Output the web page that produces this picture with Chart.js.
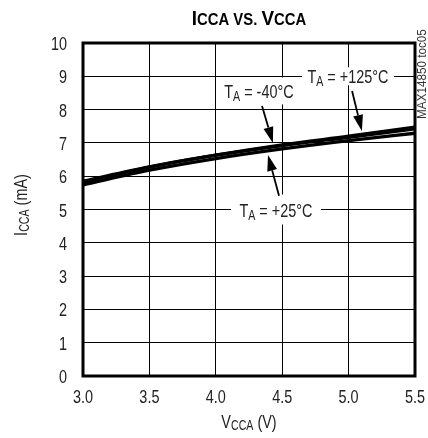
<!DOCTYPE html>
<html>
<head>
<meta charset="utf-8">
<script src="https://cdn.jsdelivr.net/npm/chart.js@4"></script>
<style>
  html, body { margin: 0; padding: 0; background: #fff; }
  #wrap { width: 428px; height: 438px; }
</style>
</head>
<body>
<div id="wrap"><canvas id="iccChart"></canvas></div>
<script>
const FONT = '"Liberation Sans", Arial, sans-serif';
const NARROW = 0.76; // squeeze to look like a condensed face

// supply voltage (V)
const vcca = [3.0, 3.5, 4.0, 4.5, 5.0, 5.5];
// supply current (mA) per temperature
const iccMinus40 = [5.85, 6.28, 6.63, 6.92, 7.17, 7.42];
const icc25 = [5.74, 6.18, 6.53, 6.82, 7.07, 7.29];
const icc125 = [5.82, 6.27, 6.63, 6.94, 7.20, 7.47];
const xTicks = ["3.0", "3.5", "4.0", "4.5", "5.0", "5.5"];
const yTicks = ["0", "1", "2", "3", "4", "5", "6", "7", "8", "9", "10"];

function pts(ys) {
  return vcca.map((v, i) => ({ x: v, y: ys[i] }));
}

function line(ys) {
  return {
    data: pts(ys),
    borderColor: "#000",
    borderWidth: 3.3,
    pointRadius: 0,
    tension: 0.4,
    cubicInterpolationMode: "monotone",
  };
}

// condensed text made of parts (small caps / subscripts)
function drawParts(ctx, parts, x, y, align, squeeze) {
  const k = squeeze || NARROW;
  let w = 0;
  parts.forEach((p) => {
    ctx.font = (p.bold ? "bold " : "") + p.size + "px " + FONT;
    w += ctx.measureText(p.t).width;
  });
  w *= k;
  let cx = x;
  if (align === "center") cx = x - w / 2;
  if (align === "right") cx = x - w;
  ctx.save();
  ctx.translate(cx, y);
  ctx.scale(k, 1);
  ctx.textAlign = "left";
  let off = 0;
  parts.forEach((p) => {
    ctx.font = (p.bold ? "bold " : "") + p.size + "px " + FONT;
    ctx.fillText(p.t, off, p.dy || 0);
    off += ctx.measureText(p.t).width;
  });
  ctx.restore();
  return w;
}

function taLabel(temp) {
  return [
    { t: "T", size: 19 },
    { t: "A", size: 14, dy: 3 },
    { t: " = " + temp, size: 19 },
  ];
}

// annotations: label centre and arrow in data units
const notes = [
  { parts: taLabel("+125°C"), x: 4.995, y: 9.0, box: [92, 18] },
  { parts: taLabel("-40°C"), x: 4.325, y: 8.56, box: [82, 27] },
  { parts: taLabel("+25°C"), x: 4.453, y: 5.0, box: [90, 30] },
];
const arrows = [
  [5.026, 8.56, 5.10, 7.36],
  [4.348, 8.11, 4.43, 7.0],
  [4.476, 5.41, 4.393, 6.64],
];

const decor = {
  id: "decor",
  afterDatasetsDraw(chart) {
    const ctx = chart.ctx;
    const xs = chart.scales.x, ys = chart.scales.y;
    const a = chart.chartArea;
    ctx.save();
    ctx.textBaseline = "alphabetic";

    notes.forEach((n) => {
      const px = xs.getPixelForValue(n.x), py = ys.getPixelForValue(n.y);
      ctx.fillStyle = "#fff";
      ctx.fillRect(px - n.box[0] / 2, py - n.box[1] / 2, n.box[0], n.box[1]);
      ctx.fillStyle = "#222";
      drawParts(ctx, n.parts, px, py + 7, "center");
    });

    ctx.fillStyle = "#000";
    ctx.strokeStyle = "#000";
    ctx.lineWidth = 1.8;
    arrows.forEach((ar) => {
      const x1 = xs.getPixelForValue(ar[0]), y1 = ys.getPixelForValue(ar[1]);
      const x2 = xs.getPixelForValue(ar[2]), y2 = ys.getPixelForValue(ar[3]);
      const ang = Math.atan2(y2 - y1, x2 - x1);
      const len = 16, half = 5;
      const bx = x2 - len * Math.cos(ang), by = y2 - len * Math.sin(ang);
      ctx.beginPath();
      ctx.moveTo(x1, y1);
      ctx.lineTo(bx, by);
      ctx.stroke();
      ctx.beginPath();
      ctx.moveTo(x2, y2);
      ctx.lineTo(bx + half * Math.sin(ang), by - half * Math.cos(ang));
      ctx.lineTo(bx - half * Math.sin(ang), by + half * Math.cos(ang));
      ctx.closePath();
      ctx.fill();
    });

    // frame
    ctx.lineWidth = 3;
    ctx.strokeRect(a.left, a.top, a.right - a.left, a.bottom - a.top);

    // tick labels
    ctx.fillStyle = "#222";
    xs.ticks.forEach((t, i) => {
      drawParts(ctx, [{ t: xTicks[i], size: 19 }], xs.getPixelForValue(t.value), a.bottom + 27, "center", 0.76);
    });
    ys.ticks.forEach((t, i) => {
      drawParts(ctx, [{ t: yTicks[i], size: 19 }], a.left - 16, ys.getPixelForValue(t.value) + 7, "right", 0.76);
    });

    // title
    ctx.fillStyle = "#000";
    drawParts(ctx, [
      { t: "I", size: 21, bold: true },
      { t: "CCA VS. ", size: 16.5, bold: true },
      { t: "V", size: 21, bold: true },
      { t: "CCA", size: 16.5, bold: true },
    ], 249, 25, "center", 0.9);

    // axis titles
    ctx.fillStyle = "#222";
    drawParts(ctx, [
      { t: "V", size: 19 },
      { t: "CCA", size: 14, dy: 2 },
      { t: " (V)", size: 19 },
    ], a.left + (a.right - a.left) / 2, 428, "center");

    ctx.save();
    ctx.translate(27, 205);
    ctx.rotate(-Math.PI / 2);
    drawParts(ctx, [
      { t: "I", size: 19 },
      { t: "CCA", size: 14, dy: 2 },
      { t: " (mA)", size: 19 },
    ], 0, 0, "center");
    ctx.restore();

    // side tag
    ctx.save();
    ctx.translate(427, 74);
    ctx.rotate(-Math.PI / 2);
    ctx.fillStyle = "#333";
    drawParts(ctx, [{ t: "MAX14850 toc05", size: 13 }], 0, -1, "center", 0.9);
    ctx.restore();

    ctx.restore();
  },
};

new Chart(document.getElementById("iccChart"), {
  type: "line",
  data: {
    datasets: [line(iccMinus40), line(icc25), line(icc125)],
  },
  options: {
    responsive: true,
    maintainAspectRatio: false,
    animation: false,
    layout: { padding: { left: 0, right: 13, top: 43, bottom: 0 } },
    plugins: { legend: { display: false }, tooltip: { enabled: false } },
    scales: {
      x: {
        type: "linear",
        min: 3.0,
        max: 5.5,
        afterBuildTicks(s) {
          s.ticks = xTicks.map((t) => ({ value: parseFloat(t) }));
        },
        afterFit(s) { s.height = 62; },
        ticks: { display: false },
        grid: { color: "#000", lineWidth: 1, drawTicks: false },
        border: { display: false },
      },
      y: {
        min: 0,
        max: 10,
        afterBuildTicks(s) {
          s.ticks = yTicks.map((t) => ({ value: parseFloat(t) }));
        },
        afterFit(s) { s.width = 83; },
        ticks: { display: false },
        grid: { color: "#000", lineWidth: 1, drawTicks: false },
        border: { display: false },
      },
    },
  },
  plugins: [decor],
});
</script>
</body>
</html>
